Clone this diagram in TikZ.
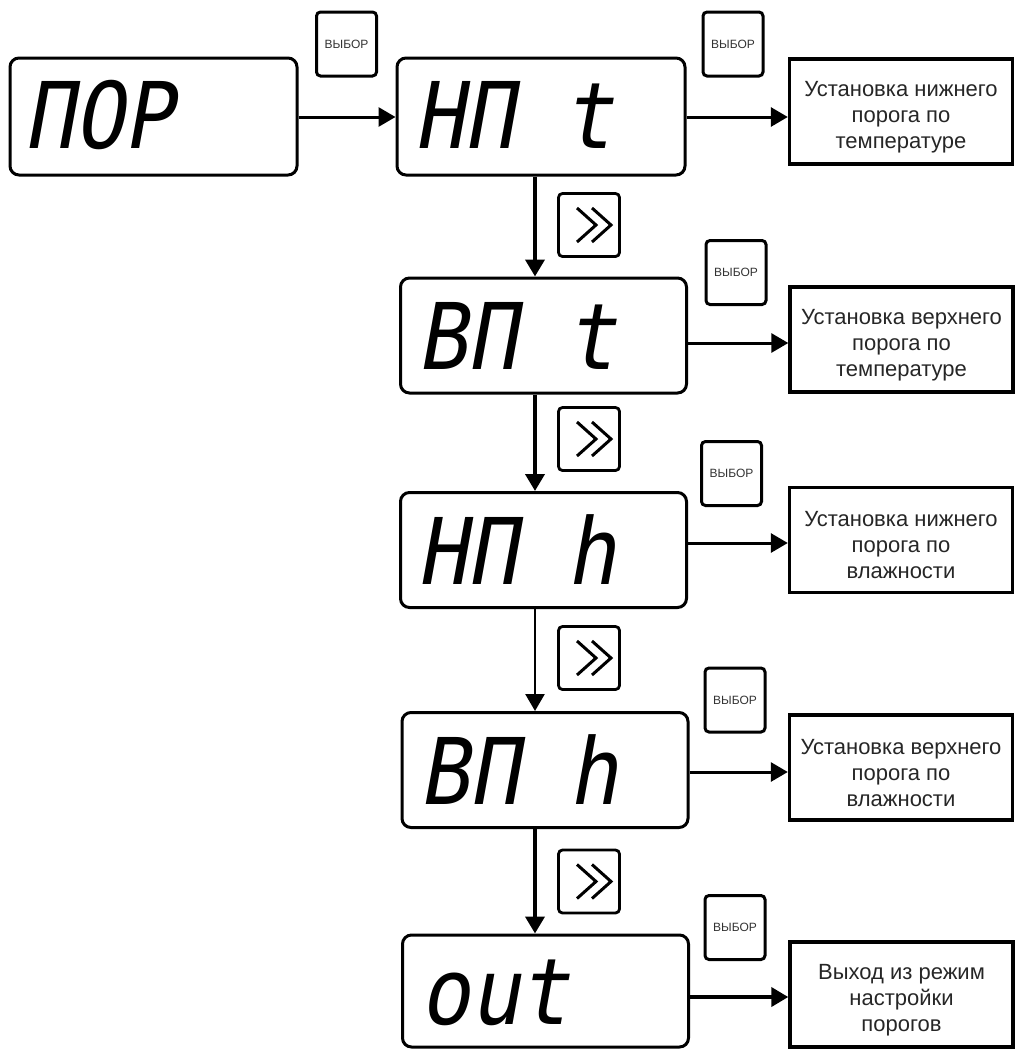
\documentclass[tikz,border=0pt]{standalone}
\usepackage{fontspec}
\setmainfont{Liberation Sans}
\newfontfamily\segfont[FakeSlant=0.18,FakeStretch=0.9]{DejaVu Sans Mono}
\usetikzlibrary{arrows.meta}
\newcommand{\lift}{\rule{0pt}{26pt}}
\begin{document}
\begin{tikzpicture}[x=1pt,y=-1pt,
  disp/.style={draw, line width=3pt, rounded corners=9pt, minimum width=286pt, minimum height=115pt, inner sep=0pt},
  segtext/.style={anchor=base west, inner sep=0pt, font=\segfont\fontsize{92}{92}\selectfont},
  res/.style={draw, line width=3.4pt, minimum width=223pt, minimum height=105pt, align=center, inner sep=0pt,
    font=\fontsize{22}{26}\selectfont, text=black!85},
  sel/.style={draw, line width=3pt, rounded corners=4pt, minimum width=60pt, minimum height=64pt, inner sep=0pt,
    font=\fontsize{12}{12}\selectfont, text=black!80},
  fwd/.style={draw, line width=2.8pt, rounded corners=4pt, minimum width=61pt, minimum height=63pt, inner sep=0pt},
  chev/.style={line width=3pt},
  arr/.style={line width=3pt, -{Triangle[length=17pt,width=19pt]}},
  varr/.style={line width=3.8pt, -{Triangle[length=17pt,width=19pt]}},
  varrthin/.style={line width=2.6pt, -{Triangle[length=17pt,width=19pt]}}
]
\useasboundingbox (0,0) rectangle (1016,1050);

% displays
\node[disp, minimum width=287pt, minimum height=117pt] (p)  at (153.5,116.5) {};
\node[disp, minimum width=288pt, minimum height=117pt] (d1) at (541,116.5) {};
\node[disp] (d2) at (543.5,335.5) {};
\node[disp] (d3) at (543.5,550) {};
\node[disp] (d4) at (545,770) {};
\node[disp, minimum height=112pt] (d5) at (545.5,991) {};

\node[segtext] (tp) at (24,148) {ПОР};
\node[segtext] (t1) at (414,148) {НП t};
\node[segtext] (t2) at (417,369) {ВП t};
\node[segtext] (t3) at (417,584) {НП h};
\node[segtext] (t4) at (419,804) {ВП h};
\node[segtext] (t5) at (420,1024) {out};

% result boxes
\node[res] (r1) at (901,111.5) {\lift Установка нижнего\\порога по\\температуре};
\node[res] (r2) at (901.5,339.5) {\lift Установка верхнего\\порога по\\температуре};
\node[res] (r3) at (901,540) {\lift Установка нижнего\\порога по\\влажности};
\node[res] (r4) at (901,767.5) {\lift Установка верхнего\\порога по\\влажности};
\node[res] (r5) at (901.5,994.5) {\lift Выход из режим\\настройки\\порогов};

% select buttons
\node[sel] (s1) at (346.5,44) {ВЫБОР};
\node[sel] (s2) at (733,44) {ВЫБОР};
\node[sel] (s3) at (736,272.5) {ВЫБОР};
\node[sel] (s4) at (731.5,473.5) {ВЫБОР};
\node[sel] (s5) at (735,700) {ВЫБОР};
\node[sel] (s6) at (735,927.5) {ВЫБОР};

% forward buttons
\foreach \n/\y in {f1/225, f2/439, f3/658, f4/881.5}{
  \node[fwd] (\n) at (589,\y) {};
  \draw[chev] ([shift={(-12,-17)}]\n.center) -- ([shift={(7,0)}]\n.center) -- ([shift={(-12,17)}]\n.center);
  \draw[chev] ([shift={(3,-17)}]\n.center) -- ([shift={(22,0)}]\n.center) -- ([shift={(3,17)}]\n.center);
}

% connectors
\coordinate (v) at (535,0);
\coordinate (a1) at (0,117);
\coordinate (a2) at (0,343);
\coordinate (a3) at (0,543);
\coordinate (a4) at (0,772);
\coordinate (a5) at (0,997);

\draw[arr] (p.east |- a1) -- (d1.west |- a1);
\draw[arr] (d1.east |- a1) -- (r1.west |- a1);
\draw[arr] (d2.east |- a2) -- (r2.west |- a2);
\draw[arr] (d3.east |- a3) -- (r3.west |- a3);
\draw[arr] (d4.east |- a4) -- (r4.west |- a4);
\draw[varr] (d5.east |- a5) -- (r5.west |- a5);

\draw[varr] (d1.south -| v) -- (d2.north -| v);
\draw[varr] (d2.south -| v) -- (d3.north -| v);
\draw[varrthin] (d3.south -| v) -- (d4.north -| v);
\draw[varr] (d4.south -| v) -- (d5.north -| v);
\end{tikzpicture}
\end{document}
